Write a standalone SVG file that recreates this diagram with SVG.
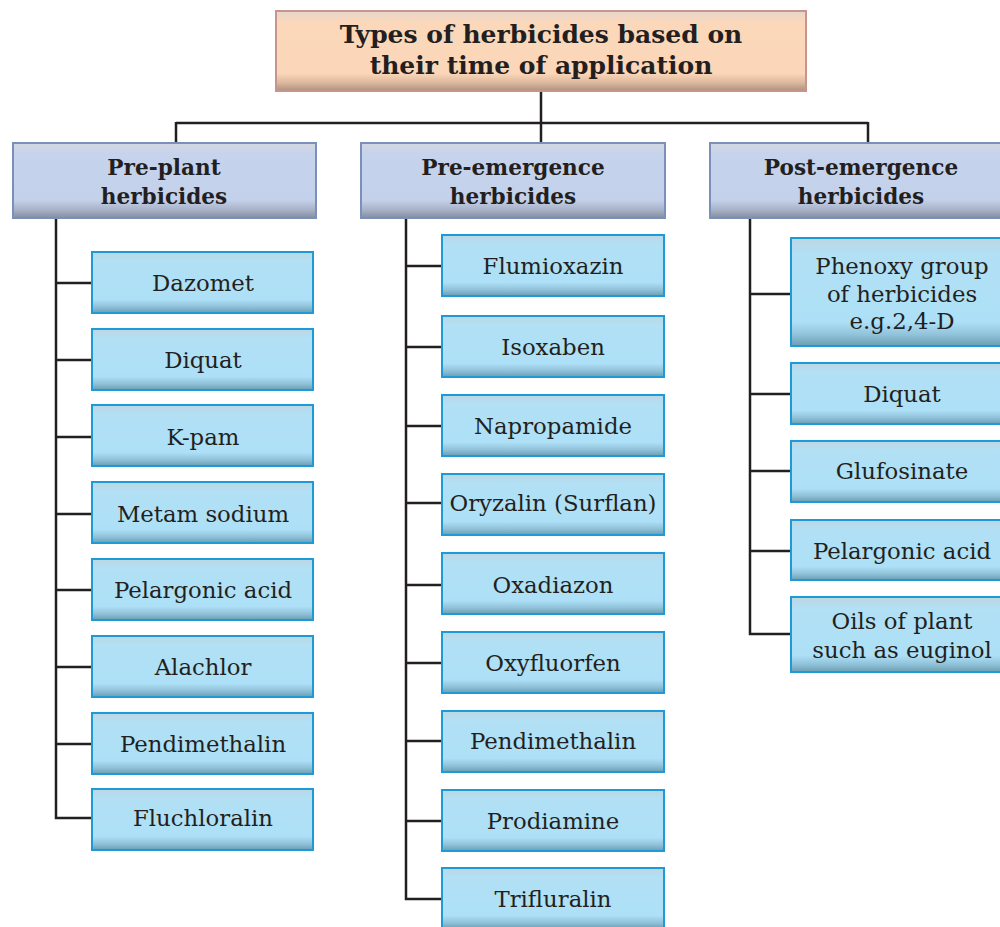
<svg xmlns="http://www.w3.org/2000/svg" width="1000" height="927" viewBox="0 0 1000 927">
<defs>
<linearGradient id="gLeaf" x1="0" y1="0" x2="0" y2="1">
<stop offset="0" stop-color="#bcd6e2"/>
<stop offset="0.15" stop-color="#b2e0f5"/>
<stop offset="0.78" stop-color="#ade0f7"/>
<stop offset="0.9" stop-color="#8fc2d8"/>
<stop offset="1" stop-color="#6a9db2"/>
</linearGradient>
<linearGradient id="gCat" x1="0" y1="0" x2="0" y2="1">
<stop offset="0" stop-color="#d2d8e2"/>
<stop offset="0.15" stop-color="#c6d3ec"/>
<stop offset="0.76" stop-color="#c4d1eb"/>
<stop offset="0.9" stop-color="#a6b0c4"/>
<stop offset="1" stop-color="#838da3"/>
</linearGradient>
<linearGradient id="gTitle" x1="0" y1="0" x2="0" y2="1">
<stop offset="0" stop-color="#e6d6cc"/>
<stop offset="0.15" stop-color="#fcd8ba"/>
<stop offset="0.78" stop-color="#fbd6b8"/>
<stop offset="0.9" stop-color="#dab79e"/>
<stop offset="1" stop-color="#b0907c"/>
</linearGradient>
</defs>
<style>
.leaf{fill:url(#gLeaf);stroke:#1d9bd6;stroke-width:2}
.cat{fill:url(#gCat);stroke:#7b8fb8;stroke-width:2}
.title{fill:url(#gTitle);stroke:#c6958e;stroke-width:2}
.tl{font-family:"DejaVu Serif",serif;font-size:22.8px;fill:#231f20;text-anchor:middle}
.tb{font-family:"DejaVu Serif",serif;font-weight:bold;font-size:21.6px;fill:#231f20;text-anchor:middle}
.tt{font-family:"DejaVu Serif",serif;font-weight:bold;font-size:25px;fill:#231f20;text-anchor:middle}
.conn{fill:none;stroke:#231f20;stroke-width:2.5}
</style>
<rect width="1000" height="927" fill="#ffffff"/>

<g id="connectors">
<path class="conn" d="M541 91V143M176 123H868M176 122V143M868 122V143"/>
<path class="conn" d="M56 218V818H92M56 283H92M56 360H92M56 437H92M56 514H92M56 590H92M56 667H92M56 744H92"/>
<path class="conn" d="M406 218V899H442M406 266H442M406 347H442M406 426H442M406 503H442M406 585H442M406 663H442M406 741H442M406 821H442"/>
<path class="conn" d="M750 218V634H791M750 294H791M750 394H791M750 471H791M750 551H791"/>
</g>

<g id="title">
<rect class="title" x="276" y="11" width="530" height="80"/>
<text class="tt" x="541" y="43">Types of herbicides based on</text>
<text class="tt" x="541" y="74">their time of application</text>
</g>

<g id="cat-preplant">
<rect class="cat" x="13" y="143" width="303" height="75"/>
<text class="tb" x="164" y="175">Pre-plant</text>
<text class="tb" x="164" y="204">herbicides</text>
</g>
<g id="cat-preemergence">
<rect class="cat" x="361" y="143" width="304" height="75"/>
<text class="tb" x="513" y="175">Pre-emergence</text>
<text class="tb" x="513" y="204">herbicides</text>
</g>
<g id="cat-postemergence">
<rect class="cat" x="710" y="143" width="300" height="75"/>
<text class="tb" x="861" y="175">Post-emergence</text>
<text class="tb" x="861" y="204">herbicides</text>
</g>

<g id="pp-dazomet"><rect class="leaf" x="92" y="252" width="221" height="61"/><text class="tl" x="203" y="291">Dazomet</text></g>
<g id="pp-diquat"><rect class="leaf" x="92" y="329" width="221" height="61"/><text class="tl" x="203" y="368">Diquat</text></g>
<g id="pp-kpam"><rect class="leaf" x="92" y="405" width="221" height="61"/><text class="tl" x="203" y="445">K-pam</text></g>
<g id="pp-metam"><rect class="leaf" x="92" y="482" width="221" height="61"/><text class="tl" x="203" y="522">Metam sodium</text></g>
<g id="pp-pelargonic"><rect class="leaf" x="92" y="559" width="221" height="61"/><text class="tl" x="203" y="598">Pelargonic acid</text></g>
<g id="pp-alachlor"><rect class="leaf" x="92" y="636" width="221" height="61"/><text class="tl" x="203" y="675">Alachlor</text></g>
<g id="pp-pendimethalin"><rect class="leaf" x="92" y="713" width="221" height="61"/><text class="tl" x="203" y="752">Pendimethalin</text></g>
<g id="pp-fluchloralin"><rect class="leaf" x="92" y="789" width="221" height="61"/><text class="tl" x="203" y="826">Fluchloralin</text></g>

<g id="pe-flumioxazin"><rect class="leaf" x="442" y="235" width="222" height="61"/><text class="tl" x="553" y="274">Flumioxazin</text></g>
<g id="pe-isoxaben"><rect class="leaf" x="442" y="316" width="222" height="61"/><text class="tl" x="553" y="355">Isoxaben</text></g>
<g id="pe-napropamide"><rect class="leaf" x="442" y="395" width="222" height="61"/><text class="tl" x="553" y="434">Napropamide</text></g>
<g id="pe-oryzalin"><rect class="leaf" x="442" y="474" width="222" height="61"/><text class="tl" x="553" y="511">Oryzalin (Surflan)</text></g>
<g id="pe-oxadiazon"><rect class="leaf" x="442" y="553" width="222" height="61"/><text class="tl" x="553" y="593">Oxadiazon</text></g>
<g id="pe-oxyfluorfen"><rect class="leaf" x="442" y="632" width="222" height="61"/><text class="tl" x="553" y="671">Oxyfluorfen</text></g>
<g id="pe-pendimethalin"><rect class="leaf" x="442" y="711" width="222" height="61"/><text class="tl" x="553" y="749">Pendimethalin</text></g>
<g id="pe-prodiamine"><rect class="leaf" x="442" y="790" width="222" height="61"/><text class="tl" x="553" y="829">Prodiamine</text></g>
<g id="pe-trifluralin"><rect class="leaf" x="442" y="868" width="222" height="61"/><text class="tl" x="553" y="907">Trifluralin</text></g>

<g id="po-phenoxy"><rect class="leaf" x="791" y="238" width="215" height="108"/>
<text class="tl" x="902" y="274">Phenoxy group</text>
<text class="tl" x="902" y="302">of herbicides</text>
<text class="tl" x="902" y="329">e.g.2,4-D</text></g>
<g id="po-diquat"><rect class="leaf" x="791" y="363" width="215" height="61"/><text class="tl" x="902" y="402">Diquat</text></g>
<g id="po-glufosinate"><rect class="leaf" x="791" y="441" width="215" height="61"/><text class="tl" x="902" y="479">Glufosinate</text></g>
<g id="po-pelargonic"><rect class="leaf" x="791" y="520" width="215" height="60"/><text class="tl" x="902" y="559">Pelargonic acid</text></g>
<g id="po-oils"><rect class="leaf" x="791" y="597" width="215" height="75"/>
<text class="tl" x="902" y="629">Oils of plant</text>
<text class="tl" x="902" y="658">such as euginol</text></g>
</svg>
